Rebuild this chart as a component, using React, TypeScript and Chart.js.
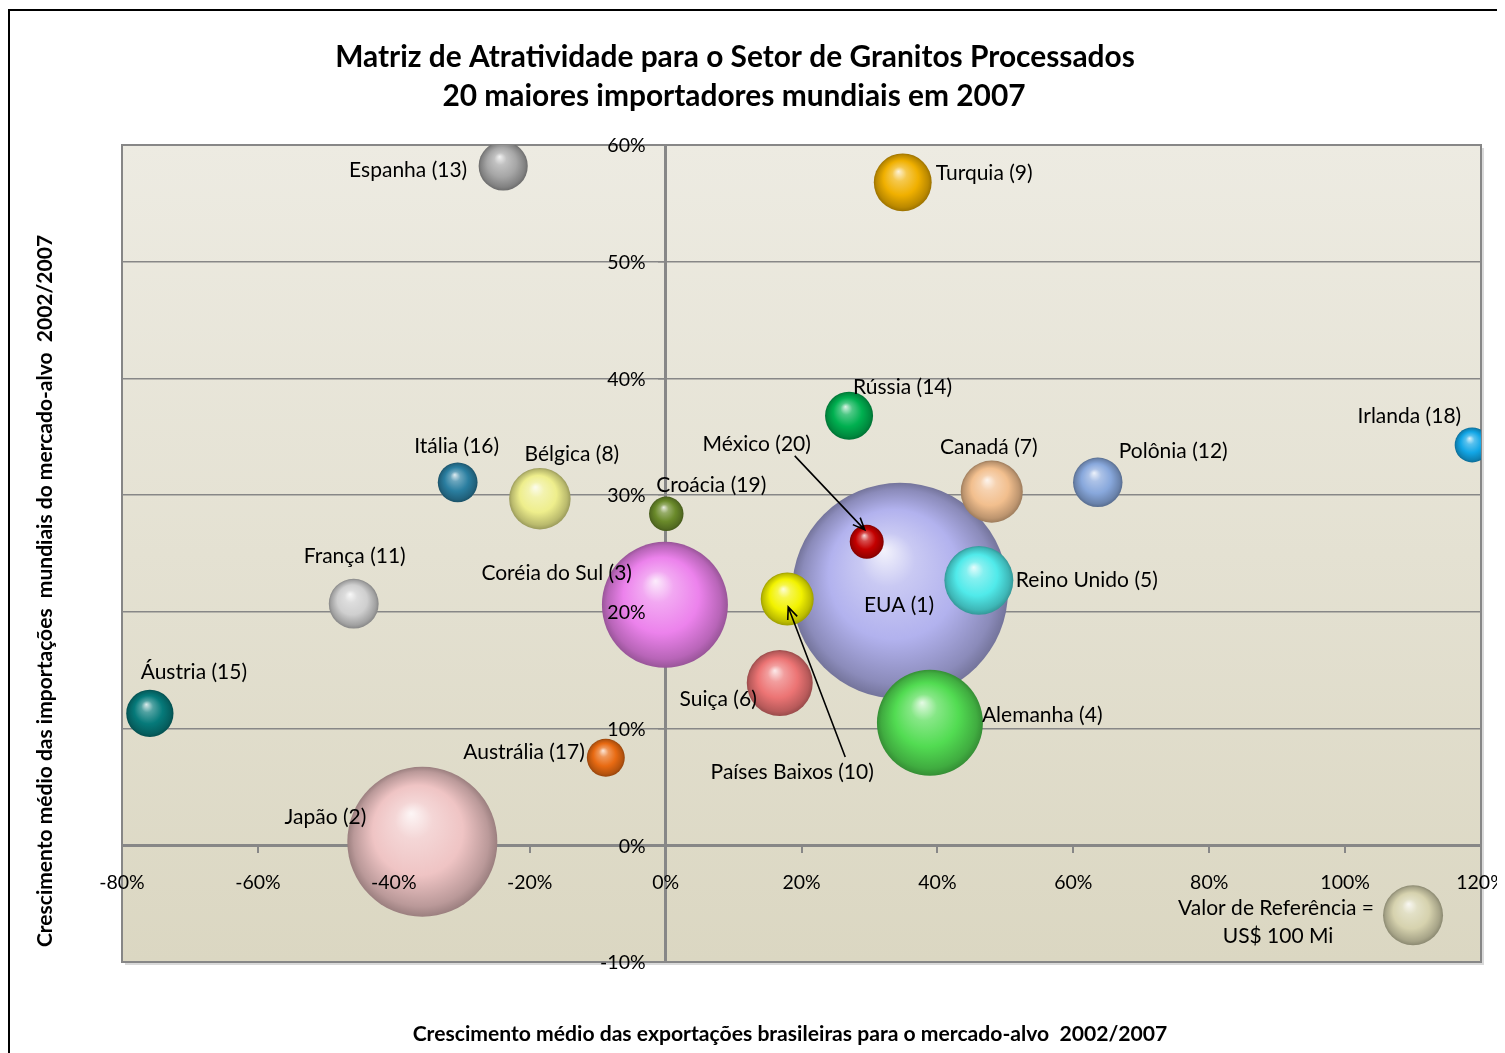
import React, { useEffect, useRef } from 'react';
import { Chart, registerables } from 'chart.js';

Chart.register(...registerables);

const FONT = 'Lato, "Open Sans", "DejaVu Sans", sans-serif';

// ---------------- DATA ----------------
const countries = [
  'EUA (1)', 'Japão (2)', 'Coréia do Sul (3)', 'Alemanha (4)', 'Reino Unido (5)',
  'Suiça (6)', 'Canadá (7)', 'Bélgica (8)', 'Turquia (9)', 'Países Baixos (10)',
  'França (11)', 'Polônia (12)', 'Espanha (13)', 'Rússia (14)', 'Áustria (15)',
  'Itália (16)', 'Austrália (17)', 'Irlanda (18)', 'Croácia (19)', 'México (20)',
];
// Crescimento médio das exportações brasileiras (%)
const exportGrowth = [34.5, -35.8, -0.1, 38.9, 46.1, 16.8, 48.0, -18.5, 34.9, 17.9, -45.9, 63.6, -23.9, 27.0, -75.9, -30.6, -8.8, 118.7, 0.1, 29.6];
// Crescimento médio das importações mundiais (%)
const importGrowth = [21.8, 0.3, 20.6, 10.5, 22.7, 13.9, 30.3, 29.7, 56.8, 21.1, 20.7, 31.1, 58.2, 36.8, 11.3, 31.1, 7.5, 34.3, 28.4, 26.0];
// Importações 2007 (US$ Mi) -> tamanho da bolha
const importValue = [1296, 625, 441, 312, 132, 121, 107, 105, 93, 78, 69, 68, 67, 64, 62, 44, 40, 34, 33, 32];

const refLabel = ['Valor de Referência =', 'US$ 100 Mi'];
const refX = [110];
const refY = [-6];
const refValue = [100];

const xMin = -80, xMax = 120, xStep = 20;
const yMin = -10, yMax = 60, yStep = 10;

const chartTitle = ['Matriz de Atratividade para o Setor de Granitos Processados', '20 maiores importadores mundiais em 2007'];
const xTitle = 'Crescimento médio das exportações brasileiras para o mercado-alvo  2002/2007';
const yTitle = 'Crescimento médio das importações  mundiais do mercado-alvo  2002/2007';

// ---------------- STYLE ----------------
const bubbleColors = [
  '#b2b2ee', '#efc4c4', '#ec82ec', '#52dc52', '#50eaea',
  '#ec7474', '#f2bf8e', '#eeee8c', '#f0b000', '#f2f200',
  '#cfcfcf', '#88a8dc', '#a6a6a6', '#00b050', '#067a7a',
  '#2a7ea0', '#e86a12', '#12a6e6', '#6a8a2a', '#c40000',
];
const refColors = ['#d6d2ae'];

const REF_RADIUS = 30; // px for 100 Mi
const REF_SIZE = 100;
const LABEL_FONT_SIZE = 21;
const TICK_FONT_SIZE = 19.5;

// label placement relative to bubble centre: [dx, dy, align]
const LABEL_LAYOUT: [number, number, CanvasTextAlign][] = [
  [-1, 14, 'center'], [-56, -25, 'right'], [-33, -32, 'right'], [52, -8, 'left'], [37, 0, 'left'],
  [-23, 16, 'right'], [-3, -44, 'center'], [32, -44, 'center'], [33, -9, 'left'], [5, 173, 'center'],
  [1, -47, 'center'], [21, -31, 'left'], [-36, 4, 'right'], [4, -29, 'left'], [44, -41, 'center'],
  [-1, -36, 'center'], [-21, -6, 'right'], [-11, -29, 'right'], [-10, -29, 'left'], [-110, -98, 'center'],
];
// arrows: point index, start offset, end offset
const ARROWS = [
  { i: 19, sx: -72, sy: -86, ex: -2, ey: -12 },
  { i: 9, sx: 58, sy: 158, ex: 1, ey: 8 },
];

const CW = 1581, CH = 1090;
const AREA = { left: 114, top: 137, right: 1473, bottom: 954 };

function hexToRgb(h: string) {
  const n = parseInt(h.slice(1), 16);
  return [(n >> 16) & 255, (n >> 8) & 255, n & 255];
}
function mix(h: string, t: string, a: number) {
  const c = hexToRgb(h), d = hexToRgb(t);
  const r = c.map((v, k) => Math.round(v + (d[k] - v) * a));
  return `rgb(${r[0]},${r[1]},${r[2]})`;
}
const radiusFor = (v: number) => REF_RADIUS * Math.sqrt(v / REF_SIZE);

const makeSphereFill = (colors: string[]) => (c: any) => {
  const base = colors[c.dataIndex % colors.length] || colors[0];
  if (c.type !== 'data') return base;
  const chart = c.chart;
  const xs = chart.scales && chart.scales.x, ys = chart.scales && chart.scales.y;
  if (!xs || !ys || !c.raw) return base;
  const cx = xs.getPixelForValue(c.raw.x), cy = ys.getPixelForValue(c.raw.y), r = c.raw.r;
  if (!isFinite(cx) || !isFinite(cy)) return base;
  const g = chart.ctx.createRadialGradient(cx - 0.15 * r, cy - 0.38 * r, 0, cx, cy, r);
  g.addColorStop(0, mix(base, '#ffffff', 0.85));
  g.addColorStop(0.25, mix(base, '#ffffff', 0.3));
  g.addColorStop(0.6, base);
  g.addColorStop(0.9, mix(base, '#000000', 0.22));
  g.addColorStop(1, mix(base, '#000000', 0.35));
  return g;
};

function fitSize(ctx: CanvasRenderingContext2D, text: string, weight: string, target: number) {
  ctx.font = `${weight} 20px ${FONT}`;
  const w = ctx.measureText(text).width;
  return (20 * target) / w;
}

const backgroundPlugin = {
  id: 'bgFrame',
  beforeDraw(chart: any) {
    const { ctx, chartArea: a, width, height } = chart;
    ctx.save();
    ctx.fillStyle = '#ffffff';
    ctx.fillRect(0, 0, width, height);
    ctx.strokeStyle = '#000000';
    ctx.lineWidth = 2;
    ctx.strokeRect(1, 2, width - 3, height - 4);
    // plot area shadow
    ctx.fillStyle = 'rgba(0,0,0,0.15)';
    ctx.fillRect(a.left + 3, a.top + 3, a.right - a.left, a.bottom - a.top);
    const g = ctx.createLinearGradient(0, a.top, 0, a.bottom);
    g.addColorStop(0, '#edebe2');
    g.addColorStop(1, '#dbd7c2');
    ctx.fillStyle = g;
    ctx.fillRect(a.left, a.top, a.right - a.left, a.bottom - a.top);
    ctx.strokeStyle = '#868686';
    ctx.lineWidth = 2;
    ctx.strokeRect(a.left, a.top, a.right - a.left, a.bottom - a.top);

    // titles
    ctx.fillStyle = '#000000';
    ctx.textBaseline = 'middle';
    ctx.textAlign = 'center';
    const ts = fitSize(ctx, chartTitle[0], 'bold', 800);
    ctx.font = `bold ${ts}px ${FONT}`;
    ctx.fillText(chartTitle[0], 727, 49);
    ctx.fillText(chartTitle[1], 726, 88);

    const xs = fitSize(ctx, xTitle, 'bold', 755);
    ctx.font = `bold ${xs}px ${FONT}`;
    ctx.fillText(xTitle, 782, 1026);

    const ys = fitSize(ctx, yTitle, 'bold', 713);
    ctx.font = `bold ${ys}px ${FONT}`;
    ctx.translate(37, 583);
    ctx.rotate(-Math.PI / 2);
    ctx.fillText(yTitle, 0, 0);
    ctx.restore();
  },
};

const labelPlugin = {
  id: 'bubbleLabels',
  afterDatasetsDraw(chart: any) {
    const ctx = chart.ctx as CanvasRenderingContext2D;
    const meta = chart.getDatasetMeta(0);
    ctx.save();
    ctx.fillStyle = '#000000';
    ctx.textBaseline = 'middle';

    // y tick labels (from the y scale), drawn left of the y axis line, above the bubbles
    const xs = chart.scales.x, ys = chart.scales.y;
    const axisX = xs.getPixelForValue(0);
    ctx.font = `${TICK_FONT_SIZE}px ${FONT}`;
    ctx.textAlign = 'right';
    ys.ticks.forEach((t: any) => {
      ctx.fillText(`${t.value}%`, axisX - 20, ys.getPixelForValue(t.value) + 1);
    });

    ctx.font = `${LABEL_FONT_SIZE}px ${FONT}`;
    meta.data.forEach((el: any, i: number) => {
      const [dx, dy, align] = LABEL_LAYOUT[i];
      ctx.textAlign = align;
      ctx.fillText(countries[i], el.x + dx, el.y + dy);
    });
    ctx.strokeStyle = '#000000';
    ctx.lineWidth = 1.6;
    ARROWS.forEach((a) => {
      const el = meta.data[a.i];
      const x1 = el.x + a.sx, y1 = el.y + a.sy, x2 = el.x + a.ex, y2 = el.y + a.ey;
      ctx.beginPath();
      ctx.moveTo(x1, y1);
      ctx.lineTo(x2, y2);
      const ang = Math.atan2(y2 - y1, x2 - x1);
      const L = 13;
      ctx.moveTo(x2 - L * Math.cos(ang - 0.4), y2 - L * Math.sin(ang - 0.4));
      ctx.lineTo(x2, y2);
      ctx.lineTo(x2 - L * Math.cos(ang + 0.4), y2 - L * Math.sin(ang + 0.4));
      ctx.stroke();
    });
    const ref = chart.getDatasetMeta(1).data[0];
    if (ref) {
      ctx.textAlign = 'center';
      ctx.fillText(refLabel[0], ref.x - 137, ref.y - 7);
      ctx.fillText(refLabel[1], ref.x - 135, ref.y + 21);
    }
    ctx.restore();
  },
};

export default function App() {
  const ref = useRef<HTMLCanvasElement | null>(null);
  useEffect(() => {
    if (!ref.current) return;
    const points = countries.map((_, i) => ({ x: exportGrowth[i], y: importGrowth[i], r: radiusFor(importValue[i]) }));
    const refPoints = refX.map((_, i) => ({ x: refX[i], y: refY[i], r: radiusFor(refValue[i]) }));
    const tickFont = { family: FONT, size: TICK_FONT_SIZE };
    const padding = { left: AREA.left, top: AREA.top, right: 20, bottom: CH - AREA.bottom };
    const options: any = {
      animation: false,
      responsive: false,
      maintainAspectRatio: false,
      events: [],
      layout: { padding },
      plugins: { legend: { display: false }, tooltip: { enabled: false }, title: { display: false } },
      scales: {
        x: {
          type: 'linear',
          min: xMin, max: xMax,
          position: { y: 0 },
          ticks: { stepSize: xStep, callback: (v: any) => `${v}%`, font: tickFont, color: '#000', padding: 20, maxRotation: 0, autoSkip: false, z: 1 },
          grid: { drawOnChartArea: false, drawTicks: true, tickLength: 6, color: '#878787', lineWidth: 2 },
          border: { display: true, color: '#878787', width: 3 },
        },
        y: {
          type: 'linear',
          min: yMin, max: yMax,
          position: { x: 0 },
          ticks: { stepSize: yStep, display: false, autoSkip: false },
          grid: { drawOnChartArea: true, drawTicks: true, tickLength: 6, color: '#878787', lineWidth: 1.5 },
          border: { display: true, color: '#878787', width: 3 },
        },
      },
    };
    const chart = new Chart(ref.current, {
      type: 'bubble',
      data: {
        datasets: [
          { label: 'Países', data: points, backgroundColor: makeSphereFill(bubbleColors) as any, borderWidth: 0 },
          { label: 'Referência', data: refPoints, backgroundColor: makeSphereFill(refColors) as any, borderWidth: 0 },
        ],
      },
      options,
      plugins: [backgroundPlugin, labelPlugin],
    });
    // align left/top/bottom of the plot area to the reference frame
    const pad = { ...padding };
    for (let k = 0; k < 3; k++) {
      const ca = chart.chartArea;
      const dl = AREA.left - ca.left, dt = AREA.top - ca.top, db = ca.bottom - AREA.bottom;
      if (Math.abs(dl) + Math.abs(dt) + Math.abs(db) < 0.5) break;
      pad.left += dl; pad.top += dt; pad.bottom += db;
      (chart.config.options as any).layout = { padding: { ...pad } };
      chart.update();
    }
    return () => chart.destroy();
  }, []);
  return (
    <div style={{ width: 1497, height: 1045, overflow: 'hidden', position: 'relative' }}>
      <canvas ref={ref} width={CW} height={CH} style={{ width: CW, height: CH, display: 'block' }} />
    </div>
  );
}
